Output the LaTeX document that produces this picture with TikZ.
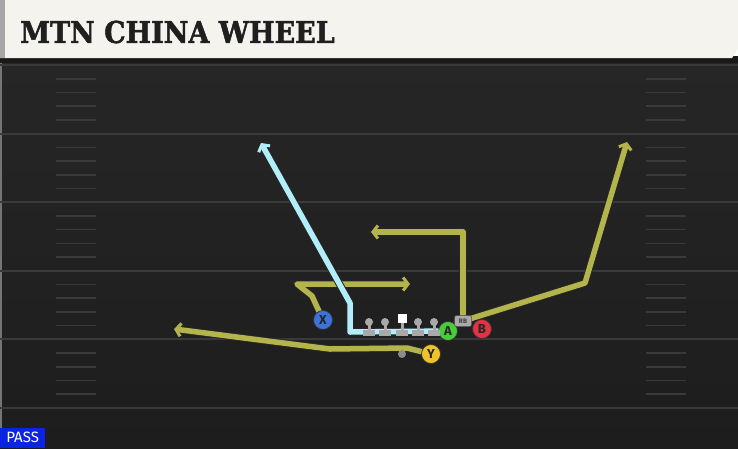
\documentclass[tikz,border=0pt]{standalone}
\usepackage{fontspec}
\newfontfamily\titlefont[BoldFeatures={FakeBold=1.6}]{DejaVu Serif Condensed}
\newfontfamily\tagfont{Fira Sans}
\usetikzlibrary{arrows.meta}

\definecolor{fieldtop}{HTML}{262626}
\definecolor{fieldbot}{HTML}{1D1D1D}
\definecolor{yardline}{HTML}{3A3A3A}
\definecolor{headcream}{HTML}{F5F3EE}
\definecolor{routeyellow}{HTML}{B4B44C}
\definecolor{routeblue}{HTML}{B2EEFA}
\definecolor{linegray}{HTML}{A9A9A9}
\definecolor{xblue}{HTML}{3C72DA}
\definecolor{agreen}{HTML}{47CC3A}
\definecolor{bred}{HTML}{E23344}
\definecolor{yyellow}{HTML}{F0C22A}
\definecolor{passblue}{HTML}{0B24E2}

\pgfdeclarelayer{field}
\pgfdeclarelayer{routes}
\pgfsetlayers{field,routes,main}

\begin{document}
\begin{tikzpicture}[
        x=1pt, y=-1pt,
        route/.style={line width=5.5pt, draw=routeyellow, line join=round,
            preaction={draw=black!85, line width=7.5pt}},
        hotroute/.style={route, draw=routeblue},
        tip/.style={-{Straight Barb[length=5pt, width=13pt, line width=-2.5pt 1]}},
        player/.style={circle, draw=black!80, line width=0.7pt, fill=#1,
            minimum size=19pt, inner sep=0pt, font=\tagfont\bfseries\fontsize{13}{13}\selectfont,
            text=black!85},
        lineman/.style={fill=linegray},
    ]
    \useasboundingbox (0,0) rectangle (738,448);

    % field, yard lines and hashes
    \begin{pgfonlayer}{field}
    \shade[top color=fieldtop, bottom color=fieldbot] (0,62) rectangle (738,448);
    \fill[yardline!70] (0,62) rectangle (2,448);
    \foreach \i in {0,...,5}
        \draw[yardline, line width=2pt] (0,65+68.6*\i) -- (738,65+68.6*\i);
    \foreach \i in {0,...,4}
        \foreach \j in {1,...,4} {
            \draw[yardline, line width=1.6pt] (56,65+68.6*\i+13.72*\j) -- (96,65+68.6*\i+13.72*\j);
            \draw[yardline, line width=1.6pt] (646,65+68.6*\i+13.72*\j) -- (686,65+68.6*\i+13.72*\j);
        }
    % header
    \fill[black!90] (0,56) rectangle (738,63);
    \fill[headcream] (0,0) -- (738,0) -- (738,49) -- (732,58) -- (0,58) -- cycle;
    \fill[black!35] (0,0) rectangle (5,58);
    \end{pgfonlayer}

    \node[anchor=west, inner sep=0pt, text=black!88,
        font=\titlefont\bfseries\fontsize{30}{30}\selectfont] (title) at (20,32) {MTN CHINA WHEEL};

    % players
    \node[player=xblue] (x) at (323,320) {X};
    \node[player=agreen] (a) at (448,331) {A};
    \node[player=bred] (b) at (482,329) {B};
    \node[player=yyellow] (y) at (431,354) {Y};
    \node[fill=linegray, draw=black!70, line width=0.5pt, rounded corners=2pt,
        minimum width=17pt, minimum height=11pt, inner sep=0pt, text=black!75,
        font=\tagfont\bfseries\fontsize{6.5}{6.5}\selectfont] (rb) at (463,321) {RB};
    \node[circle, fill=black!45, minimum size=8pt, inner sep=0pt] (qb) at (402,354) {};

    % offensive line
    \foreach \lx in {369,385,418,434} {
        \fill[lineman] (\lx,322) circle (4pt);
        \fill[lineman] (\lx-1.5,322) rectangle (\lx+1.5,331);
        \fill[lineman] (\lx-6,330) rectangle (\lx+6,336);
    }
    \node[fill=white, minimum size=9pt, inner sep=0pt] (c) at (402,318.5) {};
    \fill[lineman] (400.5,323) rectangle (403.5,331);
    \fill[lineman] (396,330) rectangle (408,336);

    % route bends and ends
    \coordinate (xbend) at (312,296);
    \coordinate (xcorner) at (297,284);
    \coordinate (xend) at (410,284);
    \coordinate (aunder) at (350,332);
    \coordinate (abend) at (350,303);
    \coordinate (aend) at (261,143);
    \coordinate (rbcorner) at (463,232);
    \coordinate (rbend) at (371,232);
    \coordinate (bbend) at (585,283);
    \coordinate (bend) at (627,142);
    \coordinate (ybend) at (407,348);
    \coordinate (yflat) at (330,349);
    \coordinate (yend) at (174,329);

    % routes
    \begin{pgfonlayer}{routes}
    \draw[route, tip] (x.center) -- (xbend) -- (xcorner) -- (xend);
    \draw[hotroute, tip] (a.center) -- (aunder) -- (abend) -- (aend);
    \draw[route, tip] (rb.center) -- (rbcorner) -- (rbend);
    \draw[route, tip] (rb.center) -- (bbend) -- (bend);
    \draw[route, tip] (y.center) -- (ybend) -- (yflat) -- (yend);
    \end{pgfonlayer}

    \node[fill=passblue, anchor=south west, minimum width=45pt, minimum height=20pt,
        inner sep=0pt, text=white, font=\tagfont\fontsize{15}{15}\selectfont] (pass) at (0,448) {PASS};
\end{tikzpicture}
\end{document}
